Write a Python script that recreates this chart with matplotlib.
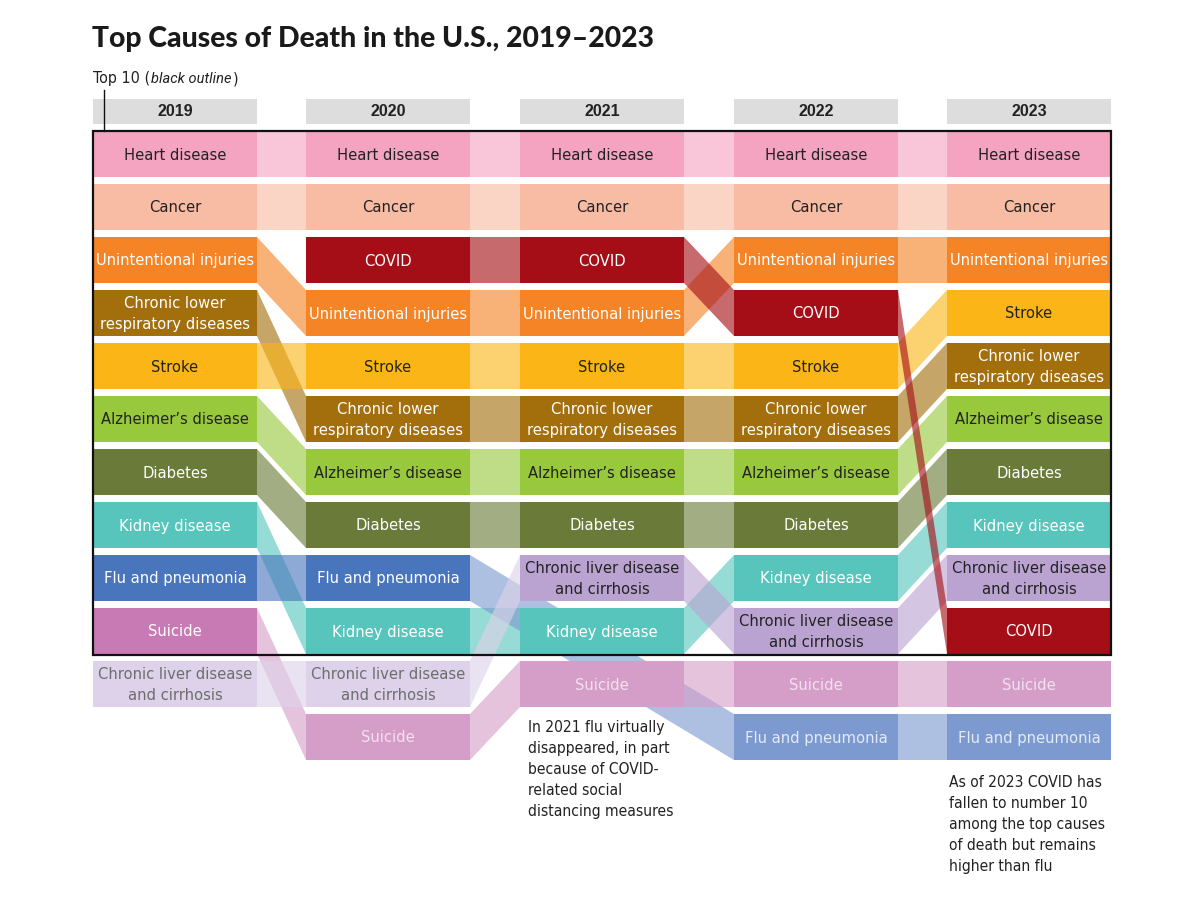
import matplotlib
matplotlib.use('Agg')
import matplotlib.pyplot as plt
from matplotlib import font_manager as fm
from matplotlib.patches import Rectangle, Polygon

# ---- data -------------------------------------------------------------
years = ['2019', '2020', '2021', '2022', '2023']

# rank order per year (first 10 = top 10, the rest sit below the outline)
rank_2019 = ['heart', 'cancer', 'injury', 'clrd', 'stroke', 'alz', 'diabetes',
             'kidney', 'flu', 'suicide', 'liver']
rank_2020 = ['heart', 'cancer', 'covid', 'injury', 'stroke', 'clrd', 'alz',
             'diabetes', 'flu', 'kidney', 'liver', 'suicide']
rank_2021 = ['heart', 'cancer', 'covid', 'injury', 'stroke', 'clrd', 'alz',
             'diabetes', 'liver', 'kidney', 'suicide']
rank_2022 = ['heart', 'cancer', 'injury', 'covid', 'stroke', 'clrd', 'alz',
             'diabetes', 'kidney', 'liver', 'suicide', 'flu']
rank_2023 = ['heart', 'cancer', 'injury', 'stroke', 'clrd', 'alz', 'diabetes',
             'kidney', 'liver', 'covid', 'suicide', 'flu']
rankings = [rank_2019, rank_2020, rank_2021, rank_2022, rank_2023]

labels = {
    'heart': 'Heart disease',
    'cancer': 'Cancer',
    'injury': 'Unintentional injuries',
    'clrd': 'Chronic lower\nrespiratory diseases',
    'stroke': 'Stroke',
    'alz': 'Alzheimer\u2019s disease',
    'diabetes': 'Diabetes',
    'kidney': 'Kidney disease',
    'flu': 'Flu and pneumonia',
    'suicide': 'Suicide',
    'liver': 'Chronic liver disease\nand cirrhosis',
    'covid': 'COVID',
}

# (fill, text) inside the top 10
colors = {
    'heart': ('#f4a3c0', '#222222'),
    'cancer': ('#f8bca4', '#222222'),
    'injury': ('#f58426', '#ffffff'),
    'clrd': ('#a36f0c', '#ffffff'),
    'stroke': ('#fbb517', '#222222'),
    'alz': ('#98c93d', '#222222'),
    'diabetes': ('#6a7b39', '#ffffff'),
    'kidney': ('#58c5bd', '#ffffff'),
    'flu': ('#4975bd', '#ffffff'),
    'suicide': ('#c77ab4', '#ffffff'),
    'liver': ('#bba3d1', '#222222'),
    'covid': ('#a50e16', '#ffffff'),
}
# (fill, text) once out of the top 10
colors_out = {
    'liver': ('#ddd2e9', '#6d6d6d'),
    'suicide': ('#d59ec8', '#f4e0ef'),
    'flu': ('#7c9acf', '#e4eaf6'),
}

note_2021 = ('In 2021 flu virtually\ndisappeared, in part\nbecause of COVID-\n'
             'related social\ndistancing measures')
note_2023 = ('As of 2023 COVID has\nfallen to number 10\namong the top causes\n'
             'of death but remains\nhigher than flu')


# ---- fonts -------------------------------------------------------------
def weight_num(w):
    if isinstance(w, int):
        return w
    return fm.weight_dict.get(w, 400)


def find_face(words, bold=False):
    for f in fm.fontManager.ttflist:
        fn = f.fname.replace('\\', '/').split('/')[-1].lower()
        if any(w in fn for w in words) and 'italic' not in fn and \
                'oblique' not in fn:
            is_bold = 'bold' in fn or weight_num(f.weight) >= 700
            if is_bold == bold:
                return f.fname
    return None


def find_heavy():
    for fam in ['Lato', 'Roboto', 'Inter']:
        for f in fm.fontManager.ttflist:
            fn = f.fname.lower()
            if f.name == fam and 'condensed' not in fn and 'italic' not in fn \
                    and f.style == 'normal' and weight_num(f.weight) >= 800:
                return f.fname
    return None


narrow = find_face(['sansnarrow', 'sans-narrow', 'sanscondensed',
                    'sans-condensed', 'robotocondensed', 'condensed'])
narrow_it = None
if narrow:
    lab_font = fm.FontProperties(fname=narrow, size=11.8)
    note_font = fm.FontProperties(fname=narrow, size=11.2)
    key_font = fm.FontProperties(fname=narrow, size=11.5)
    nm = fm.FontProperties(fname=narrow).get_name()
    for f in fm.fontManager.ttflist:
        if f.name == nm and f.style == 'italic' and \
                weight_num(f.weight) == 400:
            narrow_it = f.fname
    key_it = (fm.FontProperties(fname=narrow_it, size=11.5) if narrow_it
              else fm.FontProperties(family='Roboto', style='italic', size=10.5))
else:
    lab_font = fm.FontProperties(family='Roboto', size=10.8)
    note_font = fm.FontProperties(family='Roboto', size=10.5)
    key_font = fm.FontProperties(family='Roboto', size=10.5)
    key_it = fm.FontProperties(family='Roboto', style='italic', size=10.5)

heavy = find_heavy()
if heavy:
    title_font = fm.FontProperties(fname=heavy, size=20.4)
else:
    title_font = fm.FontProperties(family='Liberation Sans', weight='bold',
                                   size=19.8)
year_font = fm.FontProperties(family=['Liberation Sans', 'DejaVu Sans'],
                              weight='bold', size=11.5)

# ---- layout (pixels) ---------------------------------------------------
col_x = [93, 306, 520, 734, 947]
box_w = 164
top0 = 131
pitch = 53
box_h = 46

fig = plt.figure(figsize=(12, 9.02), dpi=100, facecolor='white')
ax = fig.add_axes([0, 0, 1, 1])
ax.set_xlim(0, 1200)
ax.set_ylim(902, 0)
ax.axis('off')


def row_top(r):
    return top0 + pitch * r


def fill_of(key, r):
    if r >= 10 and key in colors_out:
        return colors_out[key]
    return colors[key]


# connectors first (behind the boxes)
for key in colors:
    pts = [(i, rk.index(key)) for i, rk in enumerate(rankings) if key in rk]
    for (i0, r0), (i1, r1) in zip(pts[:-1], pts[1:]):
        xa = col_x[i0] + box_w
        xb = col_x[i1]
        ya, yb = row_top(r0), row_top(r1)
        c = fill_of(key, max(r0, r1) if key != 'liver' else r0)[0]
        ax.add_patch(Polygon([(xa, ya), (xb, yb), (xb, yb + box_h),
                              (xa, ya + box_h)], closed=True, facecolor=c,
                             edgecolor='none', alpha=0.62, zorder=1))

# boxes
for i, rk in enumerate(rankings):
    for r, key in enumerate(rk):
        fc, tc = fill_of(key, r)
        y = row_top(r)
        ax.add_patch(Rectangle((col_x[i], y), box_w, box_h, facecolor=fc,
                               edgecolor='none', zorder=3))
        ax.text(col_x[i] + box_w / 2, y + box_h / 2 + 1, labels[key],
                ha='center', va='center', color=tc, fontproperties=lab_font,
                linespacing=1.45, zorder=4)

# year headers
for i, yr in enumerate(years):
    ax.add_patch(Rectangle((col_x[i], 99), box_w, 25, facecolor='#dddddd',
                           edgecolor='none', zorder=3))
    ax.text(col_x[i] + box_w / 2, 112, yr, ha='center', va='center',
            fontproperties=year_font, color='#222222', zorder=4)

# top-10 outline
ax.add_patch(Rectangle((col_x[0], top0), col_x[-1] + box_w - col_x[0],
                       row_top(10) - 7 - top0 + 1, facecolor='none',
                       edgecolor='#111111', linewidth=1.6, zorder=6))
ax.plot([104, 104], [90, top0], color='#111111', lw=1.0, zorder=6)

# title + key
ax.text(92, 39, 'Top Causes of Death in the U.S., 2019\u20132023', ha='left',
        va='center', fontproperties=title_font, color='#1a1a1a')

renderer = fig.canvas.get_renderer()
x = 93
for part, fp in [('Top 10 (', key_font), ('black outline', key_it),
                 (')', key_font)]:
    t = ax.text(x, 79, part, ha='left', va='center', fontproperties=fp,
                color='#222222')
    x = t.get_window_extent(renderer).x1 + 1

# notes
ax.text(528, 720, note_2021, ha='left', va='top', fontproperties=note_font,
        color='#222222', linespacing=1.5)
ax.text(949, 775, note_2023, ha='left', va='top', fontproperties=note_font,
        color='#222222', linespacing=1.5)

fig.savefig('out.png', dpi=100, facecolor='white')
plt.close(fig)
